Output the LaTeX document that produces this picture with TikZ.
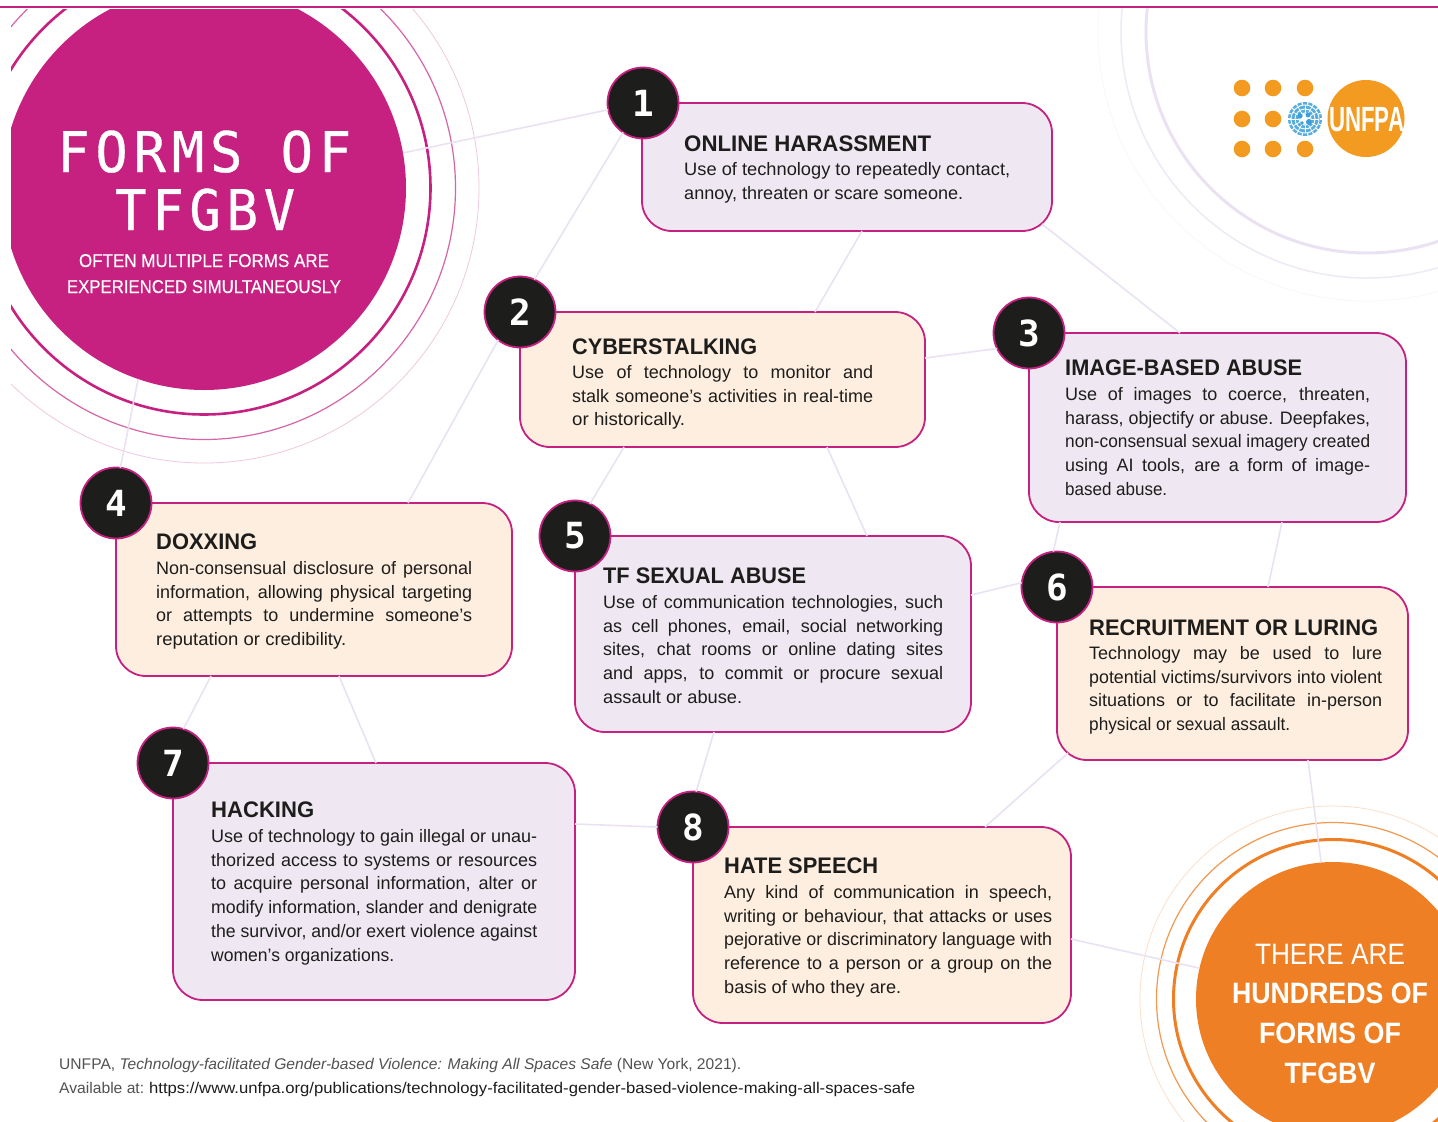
\documentclass[tikz,border=0pt]{standalone}
\usepackage{graphicx}
\usepackage{fontspec}
\setmainfont{Liberation Sans}
\newfontfamily\titlefont[LetterSpace=11,FakeBold=0.6]{DejaVu Sans Mono}
\newfontfamily\digitfont{DejaVu Sans Mono}
\newfontfamily\mediumfont[FakeBold=0.35]{Liberation Sans}
\definecolor{magentaT}{HTML}{C62181}
\definecolor{orangeT}{HTML}{EE7F25}
\definecolor{logoT}{HTML}{F39A20}
\definecolor{unblue}{HTML}{3A9FD8}
\definecolor{lavT}{HTML}{EFE8F3}
\definecolor{peachT}{HTML}{FEEEE0}
\definecolor{inkT}{HTML}{1D1D1B}
\definecolor{linkT}{HTML}{EAE2F2}
\newsavebox\jbox
\newcommand\jl[2]{\sbox\jbox{#2}\ifdim\wd\jbox>#1pt\relax\resizebox{#1pt}{\height}{\usebox\jbox}\else\makebox[#1pt][s]{#2}\fi}
\newcommand\fw[2]{\resizebox{#1pt}{\height}{#2}}
\newcommand\st{\rule{0pt}{17pt}}
\tikzset{
 card/.style={draw=magentaT,line width=1.8pt,rounded corners=30pt,inner sep=0pt,outer sep=0pt,anchor=north west},
 lavcard/.style={card,fill=lavT},
 peachcard/.style={card,fill=peachT},
 num/.style={circle,draw=magentaT,line width=1.8pt,fill=inkT,minimum size=71pt,inner sep=0pt,outer sep=0pt,text=white,font=\digitfont\bfseries\fontsize{36}{36}\selectfont},
 link/.style={draw=linkT,line width=1.6pt},
 cardtitle/.style={anchor=base west,inner sep=0pt,text=inkT,font=\bfseries\fontsize{22.5}{24}\selectfont},
 cardbody/.style={anchor=north west,inner sep=0pt,align=left,text=inkT,font=\fontsize{18}{23.8}\selectfont},
 whiteline/.style={anchor=base,inner sep=0pt,text=white},
 logodot/.style={circle,fill=logoT,minimum size=16.6pt,inner sep=0pt},
 footer/.style={anchor=base west,inner sep=0pt,font=\fontsize{15.5}{18}\selectfont}
}
\begin{document}
\begin{tikzpicture}[x=1pt,y=-1pt]
\useasboundingbox (0,0) rectangle (1438,1122);
\fill[white] (0,0) rectangle (1438,1122);
% lavender rings, top right
\begin{scope}
\clip (0,8) rectangle (1438,1122);
\draw[color=linkT,line width=3pt] (1367,32) circle (221);
\draw[color=linkT!75,line width=1.5pt] (1367,32) circle (246);
\draw[color=linkT!30,line width=.7pt] (1367,32) circle (269);
\end{scope}
% main circle
\begin{scope}
\clip (11,9) rectangle (1438,1122);
\draw[color=magentaT!25,line width=.8pt] (204,188) circle (275);
\draw[color=magentaT!70,line width=1.2pt] (204,188) circle (251.5);
\draw[color=magentaT,line width=2.6pt] (204,188) circle (226.5);
\node[circle,fill=magentaT,minimum size=404pt,inner sep=0pt,outer sep=0pt] (main) at (204,188) {};
\end{scope}
\draw[color=magentaT,line width=2.4pt] (0,7) -- (1438,7);
% orange circle
\draw[color=orangeT!25,line width=.8pt] (1333,999) circle (193);
\draw[color=orangeT!80,line width=1.2pt] (1333,999) circle (176.5);
\draw[color=orangeT,line width=3pt] (1333,999) circle (159.5);
\node[circle,fill=orangeT,minimum size=274pt,inner sep=0pt,outer sep=0pt] (hundreds) at (1333,999) {};
% cards
\node[lavcard,minimum width=410pt,minimum height=128pt] (box1) at (642,103) {};
\node[peachcard,minimum width=405pt,minimum height=135pt] (box2) at (520,312) {};
\node[lavcard,minimum width=377pt,minimum height=189pt] (box3) at (1029,333) {};
\node[peachcard,minimum width=396pt,minimum height=173pt] (box4) at (116,503) {};
\node[lavcard,minimum width=396pt,minimum height=196pt] (box5) at (575,536) {};
\node[peachcard,minimum width=351pt,minimum height=173pt] (box6) at (1057,587) {};
\node[lavcard,minimum width=402pt,minimum height=237pt] (box7) at (173,763) {};
\node[peachcard,minimum width=378pt,minimum height=196pt] (box8) at (693,827) {};
% numbers
\node[num] (num1) at (643,103) {1};
\node[num] (num2) at (520,312) {2};
\node[num] (num3) at (1029,333) {3};
\node[num] (num4) at (116,503) {4};
\node[num] (num5) at (575,536) {5};
\node[num] (num6) at (1057,587) {6};
\node[num] (num7) at (173,763) {7};
\node[num] (num8) at (693,827) {8};
% connectors
\draw[link] (main.10.5) -- (num1.191);
\draw[link] (num1.236.7) -- (num2.66.8);
\draw[link] ([xshift=220pt]box1.south west) -- ([xshift=295pt]box2.north west);
\draw[link] ([shift={(-10pt,7pt)}]box1.south east) -- ([xshift=151pt]box3.north west);
\draw[link] ([yshift=-46pt]box2.north east) -- (num3.206.6);
\draw[link] (num2.232.5) -- ([xshift=292pt]box4.north west);
\draw[link] ([xshift=104pt]box2.south west) -- (num5.65.6);
\draw[link] ([xshift=307pt]box2.south west) -- ([xshift=292pt]box5.north west);
\draw[link] ([xshift=31pt]box3.south west) -- (num6.96.5);
\draw[link] ([xshift=253pt]box3.south west) -- ([xshift=211pt]box6.north west);
\draw[link] ([yshift=-59pt]box5.north east) -- (num6.173.5);
\draw[link] ([xshift=95pt]box4.south west) -- (num7.73);
\draw[link] ([xshift=223pt]box4.south west) -- ([xshift=203pt]box7.north west);
\draw[link] (main.251.8) -- (num4.83.7);
\draw[link] ([yshift=-61pt]box7.north east) -- (num8.180);
\draw[link] ([xshift=139pt]box5.south west) -- (num8.85);
\draw[link] ([shift={(11pt,7pt)}]box6.south west) -- ([xshift=292pt]box8.north west);
\draw[link] ([xshift=251pt]box6.south west) -- (hundreds.95.8);
\draw[link] ([yshift=-112pt]box8.north east) -- (hundreds.167.8);
% main circle text
\node[whiteline,anchor=base west,font=\titlefont\fontsize{56}{56}\selectfont] (title1) at (57,172) {\fw{294}{FORMS OF}};
\node[whiteline,anchor=base west,font=\titlefont\fontsize{56}{56}\selectfont] (title2) at (115,230) {\fw{180}{TFGBV}};
\node[whiteline,font=\mediumfont\fontsize{18.5}{20}\selectfont] (sub1) at (204,267) {\fw{250}{OFTEN MULTIPLE FORMS ARE}};
\node[whiteline,font=\mediumfont\fontsize{18.5}{20}\selectfont] (sub2) at (204,293) {\fw{274}{EXPERIENCED SIMULTANEOUSLY}};
% card text
\node[cardtitle] (t1) at (684,151) {\fw{247}{ONLINE HARASSMENT}};
\node[cardbody] (b1) at (684,158) {\st\fw{326}{Use of technology to repeatedly contact,}\\\fw{279}{annoy, threaten or scare someone.}};
\node[cardtitle] (t2) at (572,354) {\fw{185}{CYBERSTALKING}};
\node[cardbody] (b2) at (572,361) {\st\jl{301}{Use of technology to monitor and}\\\jl{301}{stalk someone’s activities in real-time}\\\fw{113}{or historically.}};
\node[cardtitle] (t3) at (1065,375) {\fw{237}{IMAGE-BASED ABUSE}};
\node[cardbody] (b3) at (1065,383) {\st\jl{305}{Use of images to coerce, threaten,}\\\jl{305}{harass, objectify or abuse. Deepfakes,}\\\jl{305}{non-consensual sexual imagery created}\\\jl{305}{using AI tools, are a form of image-}\\\fw{102}{based abuse.}};
\node[cardtitle] (t4) at (156,549) {\fw{101}{DOXXING}};
\node[cardbody] (b4) at (156,557) {\st\jl{316}{Non-consensual disclosure of personal}\\\jl{316}{information, allowing physical targeting}\\\jl{316}{or attempts to undermine someone's}\\\fw{190}{reputation or credibility.}};
\node[cardtitle] (t5) at (603,583) {\fw{203}{TF SEXUAL ABUSE}};
\node[cardbody] (b5) at (603,591) {\st\jl{340}{Use of communication technologies, such}\\\jl{340}{as cell phones, email, social networking}\\\jl{340}{sites, chat rooms or online dating sites}\\\jl{340}{and apps, to commit or procure sexual}\\\fw{139}{assault or abuse.}};
\node[cardtitle] (t6) at (1089,635) {\fw{289}{RECRUITMENT OR LURING}};
\node[cardbody] (b6) at (1089,642) {\st\jl{293}{Technology may be used to lure}\\\jl{293}{potential victims/survivors into violent}\\\jl{293}{situations or to facilitate in-person}\\\fw{201}{physical or sexual assault.}};
\node[cardtitle] (t7) at (211,817) {\fw{103}{HACKING}};
\node[cardbody] (b7) at (211,825) {\st\jl{326}{Use of technology to gain illegal or unau-}\\\jl{326}{thorized access to systems or resources}\\\jl{326}{to acquire personal information, alter or}\\\jl{326}{modify information, slander and denigrate}\\\jl{326}{the survivor, and/or exert violence against}\\\fw{183}{women’s organizations.}};
\node[cardtitle] (t8) at (724,873) {\fw{154}{HATE SPEECH}};
\node[cardbody] (b8) at (724,881) {\st\jl{328}{Any kind of communication in speech,}\\\jl{328}{writing or behaviour, that attacks or uses}\\\jl{328}{pejorative or discriminatory language with}\\\jl{328}{reference to a person or a group on the}\\\fw{177}{basis of who they are.}};
% orange text
\node[whiteline,font=\fontsize{29.5}{30}\selectfont] (o1) at (1330,964) {\fw{150}{THERE ARE}};
\node[whiteline,font=\bfseries\fontsize{29.5}{30}\selectfont] (o2) at (1330,1003) {\fw{196}{HUNDREDS OF}};
\node[whiteline,font=\bfseries\fontsize{29.5}{30}\selectfont] (o3) at (1330,1043) {\fw{142}{FORMS OF}};
\node[whiteline,font=\bfseries\fontsize{29.5}{30}\selectfont] (o4) at (1330,1083) {\fw{91}{TFGBV}};
% footer
\node[footer,text=black!68] (f1) at (59,1069) {\fw{682}{UNFPA, \textit{Technology-facilitated Gender-based Violence: Making All Spaces Safe} (New York, 2021).}};
\node[footer,text=black!68] (f2) at (59,1093) {\fw{85}{Available at:}};
\node[footer,text=inkT] (f3) at (149,1093) {\fw{766}{https://www.unfpa.org/publications/technology-facilitated-gender-based-violence-making-all-spaces-safe}};
% logo
\foreach \px/\py/\nm in {1242/88/a,1273/88/b,1305/88/c,1242/119/d,1273/119/e,1242/149/f,1273/149/g,1305/149/h}
  \node[logodot] (dot\nm) at (\px,\py) {};
\node[circle,fill=logoT,minimum size=77pt,inner sep=0pt] (logo) at (1366,118.5) {};
\node[whiteline,anchor=base west,font=\bfseries\fontsize{35}{35}\selectfont] (unfpa) at (1329,131) {\fw{75}{UNFPA}};
\node[circle,fill=white,minimum size=37pt,inner sep=0pt] (emblem) at (1305,119) {};
\begin{scope}[shift={(1305,119)}]
\fill[unblue!85] (0,0) circle (17);
\foreach \r in {14,10,6}
  \draw[white,line width=.9pt] (0,0) circle (\r);
\foreach \a in {0,30,...,330}
  \draw[white,line width=.7pt] (\a:6) -- (\a:14);
\foreach \a in {-80,-60,...,260}
  \draw[white,line width=1.1pt] (\a:14.5) -- (\a:17.5);
\fill[white] (0,0) circle (5.5);
\fill[unblue] (-5,-3) circle (2.6) (3,-4) circle (2.4) (4,3) circle (3) (-3,4) circle (1.8);
\end{scope}
\end{tikzpicture}
\end{document}
